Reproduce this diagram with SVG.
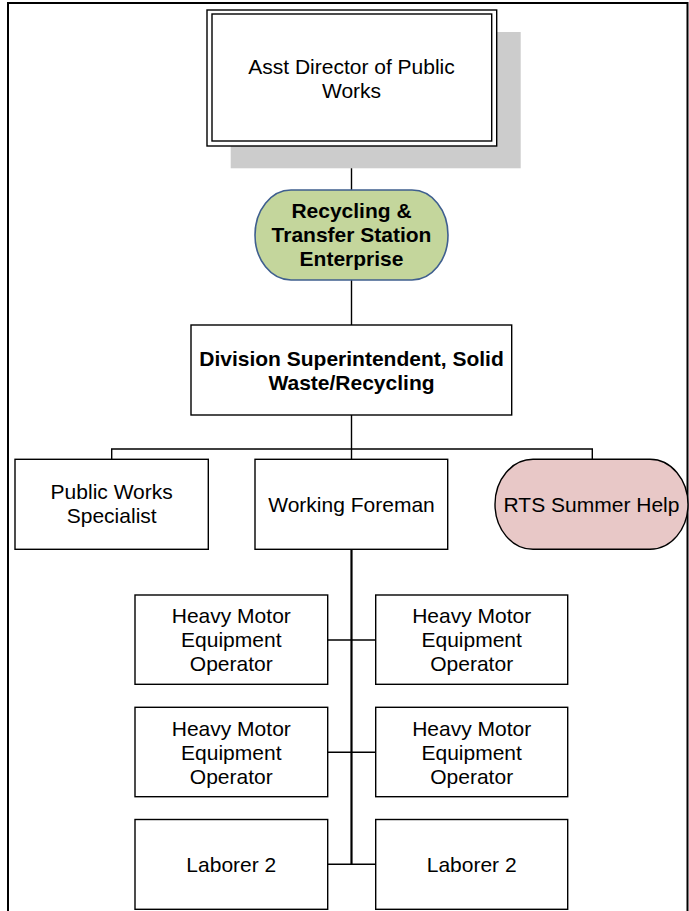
<svg xmlns="http://www.w3.org/2000/svg" width="689" height="911" viewBox="0 0 689 911">
  <style>
    .box { fill: #ffffff; stroke: #000000; stroke-width: 1.4; }
    .frame { fill: none; stroke: #000000; stroke-width: 2; }
    .wire { fill: none; stroke: #000000; stroke-width: 1.4; }
    .trunk { fill: none; stroke: #000000; stroke-width: 2.2; }
    .lbl { font-family: "Liberation Sans", Arial, sans-serif; font-size: 21px; fill: #000000; text-anchor: middle; }
    .bold { font-weight: bold; }
  </style>

  <!-- page frame (open at the bottom) -->
  <path class="frame" d="M8,911 V3 H687.5 V911"/>

  <!-- connectors -->
  <g id="connectors">
    <path class="wire" d="M351.5,146 V190"/>
    <path class="wire" d="M351.5,280 V325"/>
    <path class="wire" d="M351.5,415 V459"/>
    <path class="wire" d="M111.7,459 V449 H592.3 V459"/>
    <path class="trunk" d="M351.5,549 V865"/>
    <path class="wire" d="M327.7,640 H375.7"/>
    <path class="wire" d="M327.7,752.3 H375.7"/>
    <path class="wire" d="M327.7,864.3 H375.7"/>
  </g>

  <!-- top: double-bordered box with drop shadow -->
  <g id="asst-director">
    <rect x="230.7" y="32" width="290" height="136.3" fill="#cccccc"/>
    <rect class="box" x="207" y="10" width="289.7" height="136"/>
    <rect class="box" x="212" y="14" width="279.7" height="127"/>
    <text class="lbl" x="351.5" y="74">Asst Director of Public</text>
    <text class="lbl" x="351.5" y="97.5">Works</text>
  </g>

  <g id="rts-enterprise">
    <rect x="255" y="190" width="193" height="90" rx="36" ry="45" fill="#c4d69c" stroke="#3f5f8f" stroke-width="1.6"/>
    <text class="lbl bold" x="351.5" y="217.5">Recycling &amp;</text>
    <text class="lbl bold" x="351.5" y="241.5">Transfer Station</text>
    <text class="lbl bold" x="351.5" y="265.5">Enterprise</text>
  </g>

  <g id="division-superintendent">
    <rect class="box" x="191" y="325" width="320.7" height="90"/>
    <text class="lbl bold" x="351.5" y="366">Division Superintendent, Solid</text>
    <text class="lbl bold" x="351.5" y="389.5">Waste/Recycling</text>
  </g>

  <g id="public-works-specialist">
    <rect class="box" x="15" y="459.3" width="193.3" height="90"/>
    <text class="lbl" x="111.7" y="499">Public Works</text>
    <text class="lbl" x="111.7" y="522.5">Specialist</text>
  </g>

  <g id="working-foreman">
    <rect class="box" x="255" y="459.3" width="192.7" height="90"/>
    <text class="lbl" x="351.5" y="511.5">Working Foreman</text>
  </g>

  <g id="rts-summer-help">
    <rect x="495" y="459.3" width="193" height="90" rx="38" ry="45" fill="#e8c8c7" stroke="#000000" stroke-width="1.4"/>
    <text class="lbl" x="591.5" y="511.5">RTS Summer Help</text>
  </g>

  <g id="hmeo-1">
    <rect class="box" x="135" y="595" width="192.7" height="89.3"/>
    <text class="lbl" x="231.3" y="623">Heavy Motor</text>
    <text class="lbl" x="231.3" y="647">Equipment</text>
    <text class="lbl" x="231.3" y="671">Operator</text>
  </g>

  <g id="hmeo-2">
    <rect class="box" x="375.7" y="595" width="192" height="89.3"/>
    <text class="lbl" x="471.7" y="623">Heavy Motor</text>
    <text class="lbl" x="471.7" y="647">Equipment</text>
    <text class="lbl" x="471.7" y="671">Operator</text>
  </g>

  <g id="hmeo-3">
    <rect class="box" x="135" y="707.3" width="192.7" height="89.4"/>
    <text class="lbl" x="231.3" y="735.5">Heavy Motor</text>
    <text class="lbl" x="231.3" y="759.5">Equipment</text>
    <text class="lbl" x="231.3" y="783.5">Operator</text>
  </g>

  <g id="hmeo-4">
    <rect class="box" x="375.7" y="707.3" width="192" height="89.4"/>
    <text class="lbl" x="471.7" y="735.5">Heavy Motor</text>
    <text class="lbl" x="471.7" y="759.5">Equipment</text>
    <text class="lbl" x="471.7" y="783.5">Operator</text>
  </g>

  <g id="laborer-1">
    <rect class="box" x="135" y="819.5" width="192.7" height="89.8"/>
    <text class="lbl" x="231.3" y="871.5">Laborer 2</text>
  </g>

  <g id="laborer-2">
    <rect class="box" x="375.7" y="819.5" width="192" height="89.8"/>
    <text class="lbl" x="471.7" y="871.5">Laborer 2</text>
  </g>
</svg>
